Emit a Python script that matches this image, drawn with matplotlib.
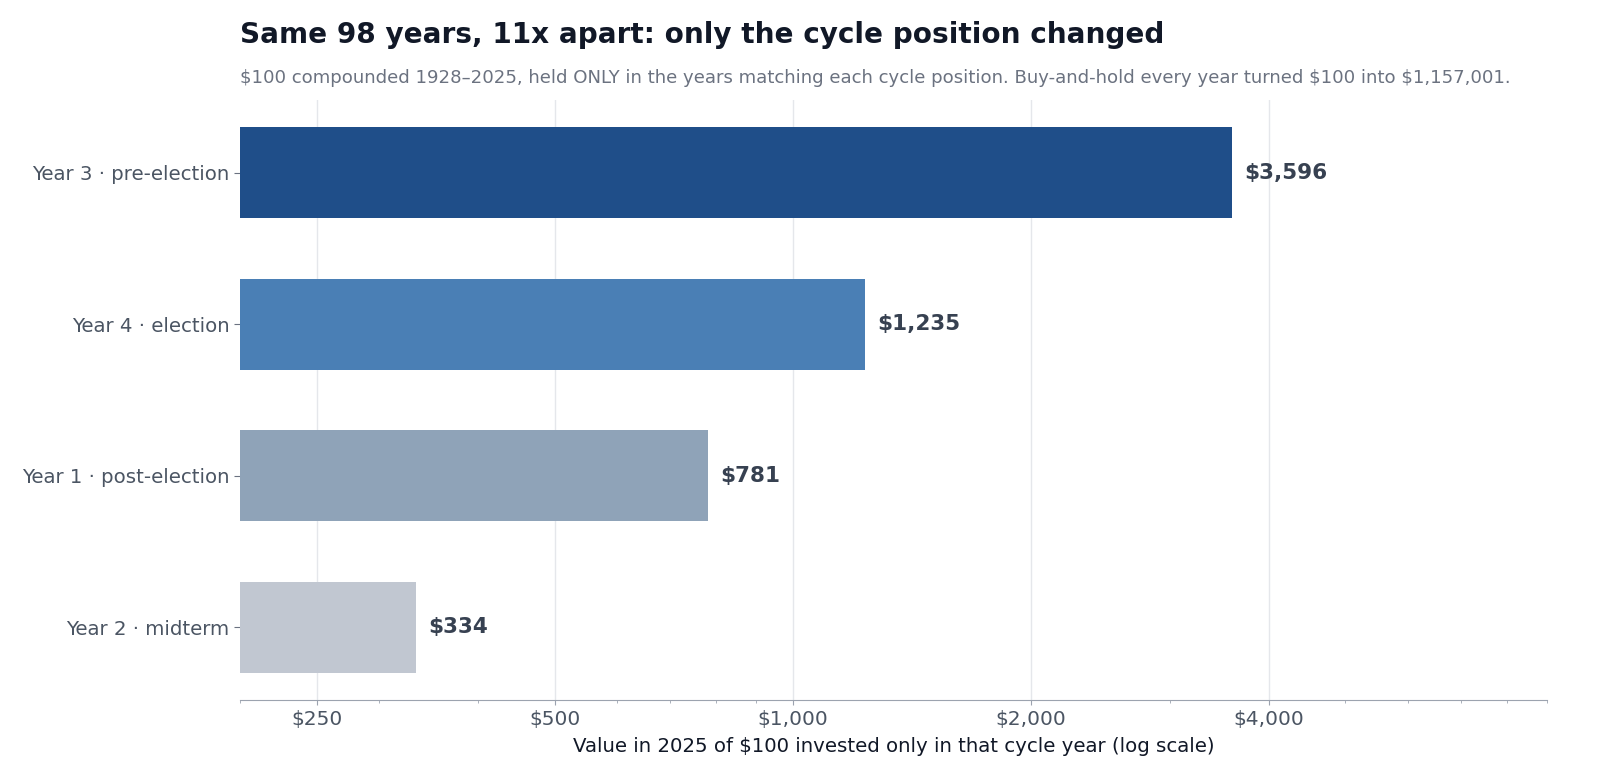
import matplotlib.pyplot as plt
from matplotlib.ticker import FixedLocator, NullFormatter

# Datos (de arriba hacia abajo en la figura)
etiquetas = ['Year 3 · pre-election', 'Year 4 · election',
             'Year 1 · post-election', 'Year 2 · midterm']
valores = [3596, 1235, 781, 334]
colores = ['#1f4e89', '#4a7fb5', '#8fa3b8', '#c1c7d1']
ticks_x = [250, 500, 1000, 2000, 4000]
ticks_txt = ['$250', '$500', '$1,000', '$2,000', '$4,000']

fig = plt.figure(figsize=(16, 7.82), dpi=100)
ax = fig.add_axes([0.15, 0.105, 0.817, 0.767])

pos = list(range(len(valores)))[::-1]
ax.barh(pos, valores, height=0.6, left=0, color=colores, zorder=2)
ax.set_xscale('log')
ax.set_xlim(200, 9000)

for p, v in zip(pos, valores):
    ax.annotate(f'${v:,}', xy=(v, p), xytext=(9, 0), textcoords='offset points',
                va='center', ha='left', fontsize=15.5, fontweight='bold', color='#374151')

ax.set_yticks(pos)
ax.set_yticklabels(etiquetas, fontsize=14.2, color='#4b5563')
ax.xaxis.set_major_locator(FixedLocator(ticks_x))
ax.set_xticklabels(ticks_txt, fontsize=14.5, color='#4b5563')
ax.xaxis.set_minor_formatter(NullFormatter())
ax.tick_params(axis='x', which='both', colors='#9ca3af', labelcolor='#4b5563')
ax.tick_params(axis='y', colors='#6b7280', labelcolor='#4b5563', length=4)

ax.grid(axis='x', which='major', color='#e5e7eb', linewidth=1, zorder=0)
ax.set_axisbelow(True)
for s in ['top', 'right', 'left']:
    ax.spines[s].set_visible(False)
ax.spines['bottom'].set_color('#9ca3af')

ax.set_xlabel('Value in 2025 of $100 invested only in that cycle year (log scale)',
              fontsize=14.2, color='#111827', labelpad=6)

fig.text(0.15, 0.955, 'Same 98 years, 11x apart: only the cycle position changed',
         fontsize=20.1, fontweight='bold', color='#111827', va='center')
fig.text(0.15, 0.9, '$100 compounded 1928–2025, held ONLY in the years matching each cycle position. '
         'Buy-and-hold every year turned $100 into $1,157,001.',
         fontsize=13.1, color='#6b7280', va='center')

fig.savefig('out.png', dpi=100)
